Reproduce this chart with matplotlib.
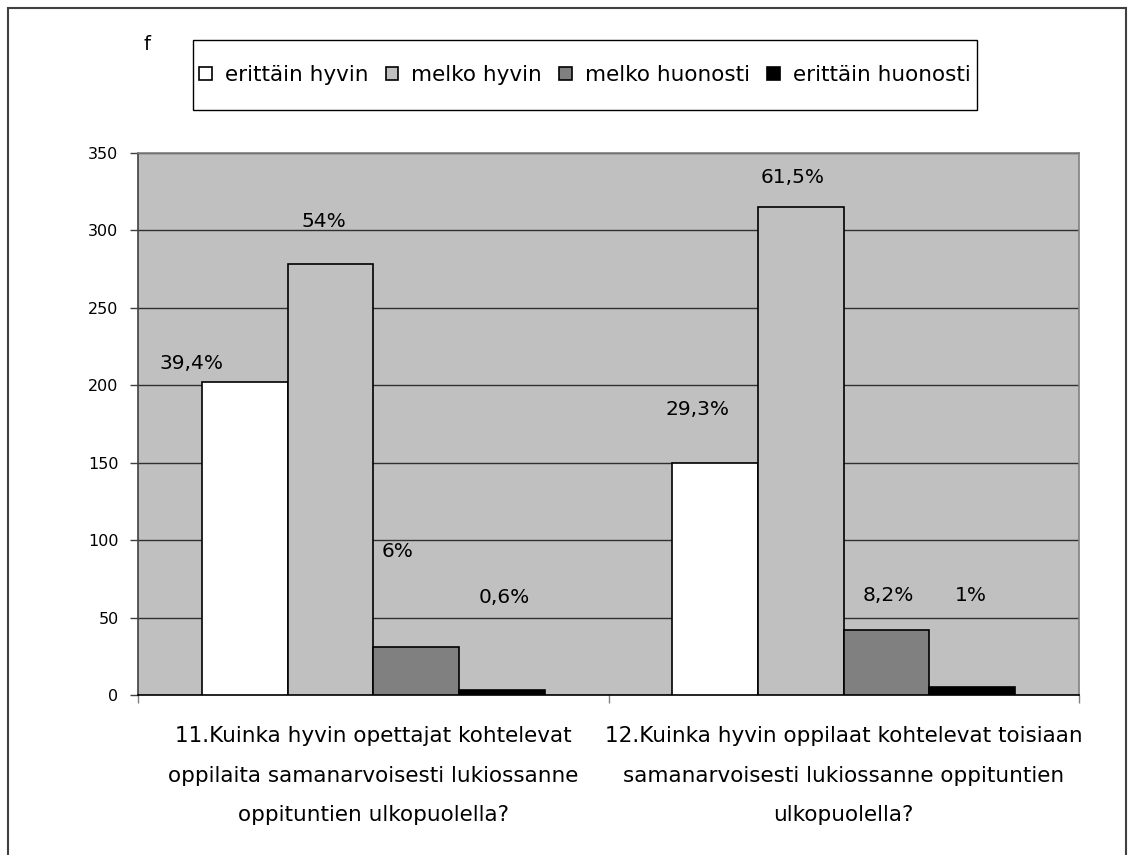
import numpy as np
import matplotlib.pyplot as plt
from matplotlib.patches import Rectangle

# survey answers (counts) per question
categories = ["11.Kuinka hyvin opettajat kohtelevat\noppilaita samanarvoisesti lukiossanne\noppituntien ulkopuolella?",
              "12.Kuinka hyvin oppilaat kohtelevat toisiaan\nsamanarvoisesti lukiossanne oppituntien\nulkopuolella?"]
series_names = ["erittäin hyvin", "melko hyvin", "melko huonosti", "erittäin huonosti"]
series_values = [[202, 150],
                 [278, 315],
                 [31, 42],
                 [3, 5]]
pct_labels = [["39,4%", "29,3%"],
              ["54%", "61,5%"],
              ["6%", "8,2%"],
              ["0,6%", "1%"]]
yticks = [0, 50, 100, 150, 200, 250, 300, 350]

colors = ["#FFFFFF", "#C0C0C0", "#808080", "#000000"]
# label offsets (pixels) from bar top, mimicking manually moved Excel labels
label_offsets = [[(-53, 19), (-18, 53)],
                 [(-7, 43), (-8, 30)],
                 [(-19, 95), (2, 34)],
                 [(3, 93), (-1, 92)]]

fig = plt.figure(figsize=(11.31, 8.55), dpi=100)
ax = fig.add_axes([138 / 1131, 1 - 695 / 855, 941 / 1131, 542 / 855])
ax.set_facecolor("#C0C0C0")

x = np.arange(len(categories))
width = 0.182
for i, (name, vals) in enumerate(zip(series_names, series_values)):
    pos = x + (i - 1.5) * width
    bars = ax.bar(pos, vals, width, color=colors[i], edgecolor="black",
                  linewidth=1.2, label=name, zorder=3)
    for j, b in enumerate(bars):
        ax.annotate(pct_labels[i][j], (b.get_x() + b.get_width() / 2, b.get_height()),
                    xytext=label_offsets[i][j], textcoords="offset pixels",
                    ha="center", va="center", fontsize=14.5, color="black", zorder=4)

ax.set_xlim(-0.5, 1.5)
ax.set_ylim(0, 350)
ax.set_yticks(yticks)
ax.tick_params(axis="y", labelsize=11.5, length=6, width=1, color="#404040", pad=8)
ax.yaxis.grid(True, color="#303030", linewidth=1, zorder=1)
ax.set_axisbelow(True)

ax.set_xticks([-0.5, 0.5, 1.5])
ax.set_xticklabels([])
ax.tick_params(axis="x", length=6, width=1, color="#808080")
for xi, cat in zip(x, categories):
    ax.text(xi, -0.058, cat, transform=ax.get_xaxis_transform(), ha="center", va="top",
            fontsize=15.5, linespacing=2.22)

ax.spines["left"].set_color("#404040")
ax.spines["bottom"].set_color("black")
ax.spines["top"].set_color("#808080")
ax.spines["right"].set_color("#808080")
for s in ax.spines.values():
    s.set_linewidth(1.2)

# legend box
fig.patches.append(Rectangle((193 / 1131, 1 - 110 / 855), 784 / 1131, 70 / 855,
                             transform=fig.transFigure, facecolor="white",
                             edgecolor="black", linewidth=1))
fig.legend(loc="center", bbox_to_anchor=(585 / 1131, 1 - 75 / 855), ncol=4,
           frameon=False, fontsize=15.5, handlelength=0.6, handleheight=0.6,
           handletextpad=0.6, columnspacing=0.8)

fig.text(143 / 1131, 1 - 45 / 855, "f", fontsize=14, ha="left", va="center")

# outer frame
fig.patches.append(Rectangle((8 / 1131, -0.1), 1118 / 1131, 1.1 - 8 / 855,
                             transform=fig.transFigure, facecolor="none",
                             edgecolor="#404040", linewidth=1.5))

fig.savefig("out.png", dpi=100)
